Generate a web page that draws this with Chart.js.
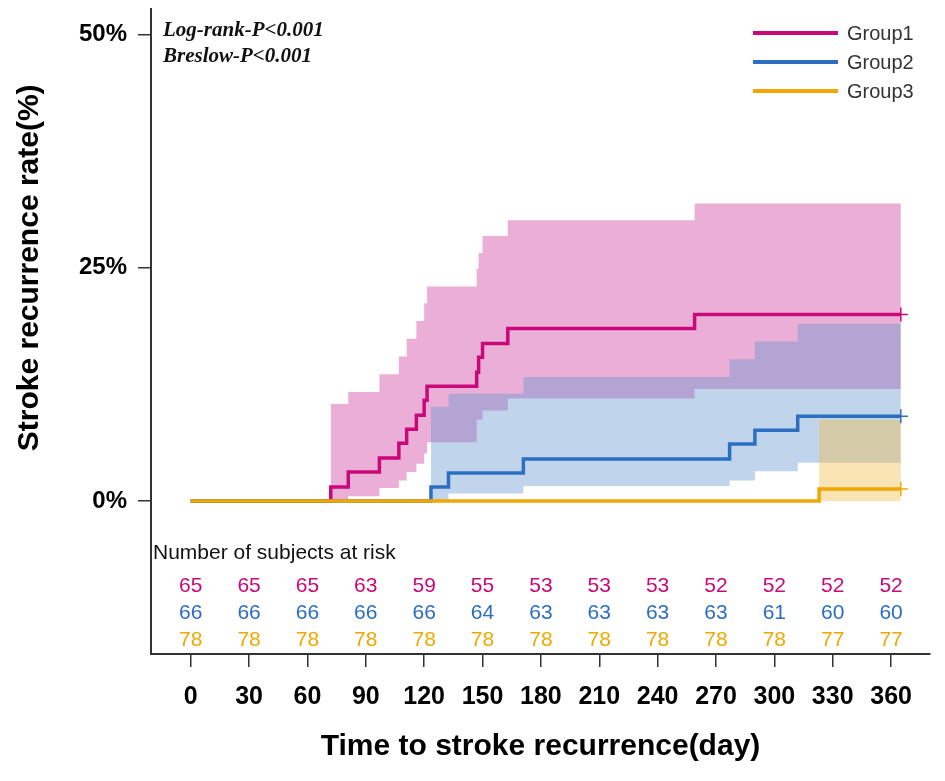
<!DOCTYPE html>
<html><head><meta charset="utf-8">
<script src="https://cdn.jsdelivr.net/npm/chart.js@4.4.1/dist/chart.umd.min.js"></script>
<style>html,body{margin:0;padding:0;background:#fff;} #wrap{width:945px;height:781px;}</style>
</head><body><div id="wrap"><canvas id="c" width="945" height="781"></canvas></div>
<script>
// ---- data ----
const xTicks = [0, 30, 60, 90, 120, 150, 180, 210, 240, 270, 300, 330, 360];
const yTicks = [0, 25, 50];
const groupNames = ['Group1', 'Group2', 'Group3'];
const pTexts = ['Log-rank-P<0.001', 'Breslow-P<0.001'];

const g1Days  = [0, 72, 81, 97, 107, 111, 116, 120, 121.5, 147, 148, 150, 163, 259, 365];
const g1Rate  = [0, 1.5, 3.1, 4.6, 6.2, 7.7, 9.2, 10.8, 12.3, 13.8, 15.4, 16.9, 18.5, 20.0, 20.0];
const g1CiDays = [72, 81, 97, 107, 111, 116, 120, 121.5, 147, 148, 150, 163, 259, 365];
const g1Upper = [10.4, 11.7, 13.6, 15.5, 17.4, 19.3, 21.2, 23.0, 24.9, 26.6, 28.4, 30.1, 31.9, 31.9];
const g1Lower = [0, 0.5, 1.4, 2.2, 3.1, 4.0, 5.1, 6.3, 8.7, 8.7, 9.7, 11.0, 12.0, 12.0];

const g2Days  = [0, 123.5, 132.5, 171, 277, 290, 312, 365];
const g2Rate  = [0, 1.5, 3.0, 4.5, 6.1, 7.6, 9.1, 9.1];
const g2CiDays = [123.5, 132.5, 171, 277, 290, 312, 365];
const g2Upper = [10.1, 11.5, 13.3, 15.2, 17.1, 19.0, 19.0];
const g2Lower = [0, 0.8, 1.6, 2.2, 3.2, 4.1, 4.1];

const g3Days  = [0, 323, 365];
const g3Rate  = [0, 1.3, 1.3];
const g3CiDays = [323, 365];
const g3Upper = [8.7, 8.7];
const g3Lower = [0, 0];

const risk1 = [65, 65, 65, 63, 59, 55, 53, 53, 53, 52, 52, 52, 52];
const risk2 = [66, 66, 66, 66, 66, 64, 63, 63, 63, 63, 61, 60, 60];
const risk3 = [78, 78, 78, 78, 78, 78, 78, 78, 78, 78, 78, 77, 77];

// ---- styles ----
const lineColors = ['#C9087A', '#2C6EC2', '#F0A800'];
const bandColors = ['rgba(205,55,155,0.40)', 'rgba(98,148,208,0.40)', 'rgba(242,187,67,0.40)'];
const axisColor = '#333333';
const FONT = '"Liberation Sans", Arial, sans-serif';
const SERIF = '"Liberation Serif", "Times New Roman", serif';

function pts(xs, ys) { return xs.map((x, i) => ({ x: x, y: ys[i] })); }

function lineDS(i, xs, ys, order) {
  const last = xs.length - 1;
  return {
    label: groupNames[i], data: pts(xs, ys), stepped: 'before',
    borderColor: lineColors[i], backgroundColor: lineColors[i], borderWidth: 3.5,
    pointStyle: 'cross', pointBorderWidth: 1.5,
    pointRadius: c => (c.dataIndex === last ? 7 : 0),
    pointBorderColor: lineColors[i], fill: false, order: order
  };
}
function bandDS(i, xs, ys, fill, order) {
  return {
    label: groupNames[i] + '_ci', data: pts(xs, ys), stepped: 'before',
    borderWidth: 0, borderColor: 'rgba(0,0,0,0)', pointRadius: 0,
    backgroundColor: bandColors[i], fill: fill, order: order
  };
}

const datasets = [
  bandDS(0, g1CiDays, g1Lower, false, 21),
  bandDS(0, g1CiDays, g1Upper, '-1', 20),
  bandDS(1, g2CiDays, g2Lower, false, 19),
  bandDS(1, g2CiDays, g2Upper, '-1', 18),
  bandDS(2, g3CiDays, g3Lower, false, 17),
  bandDS(2, g3CiDays, g3Upper, '-1', 16),
  lineDS(0, g1Days, g1Rate, 2),
  lineDS(1, g2Days, g2Rate, 1),
  lineDS(2, g3Days, g3Rate, 0)
];

const decor = {
  id: 'decor',
  afterDraw(chart) {
    const ctx = chart.ctx, xs = chart.scales.x, ys = chart.scales.y;
    ctx.save();
    // p values
    ctx.fillStyle = '#111';
    ctx.font = 'italic bold 21px ' + SERIF;
    ctx.textAlign = 'left'; ctx.textBaseline = 'alphabetic';
    ctx.fillText(pTexts[0], 163, 36);
    ctx.fillText(pTexts[1], 163, 62);
    // legend
    const ly = [33, 62, 91];
    for (let i = 0; i < 3; i++) {
      ctx.strokeStyle = lineColors[i]; ctx.lineWidth = 4;
      ctx.beginPath(); ctx.moveTo(753, ly[i]); ctx.lineTo(838, ly[i]); ctx.stroke();
      ctx.fillStyle = '#333'; ctx.font = '20px ' + FONT;
      ctx.textAlign = 'left'; ctx.textBaseline = 'middle';
      ctx.fillText(groupNames[i], 847, ly[i] + 1);
    }
    // risk table
    ctx.fillStyle = '#111'; ctx.font = '21px ' + FONT;
    ctx.textAlign = 'left'; ctx.textBaseline = 'middle';
    ctx.fillText('Number of subjects at risk', 153, 553);
    const rows = [risk1, risk2, risk3], ry = [586, 613, 640];
    ctx.font = '21px ' + FONT; ctx.textAlign = 'center';
    rows.forEach((r, k) => {
      ctx.fillStyle = lineColors[k];
      r.forEach((v, j) => ctx.fillText(String(v), xs.getPixelForValue(xTicks[j]), ry[k]));
    });
    // axis titles
    ctx.fillStyle = '#000'; ctx.font = 'bold 30px ' + FONT;
    ctx.textAlign = 'center'; ctx.textBaseline = 'middle';
    ctx.fillText('Time to stroke recurrence(day)', (chart.chartArea.left + chart.chartArea.right) / 2, 747);
    ctx.translate(30, (ys.getPixelForValue(0) + ys.getPixelForValue(50)) / 2);
    ctx.rotate(-Math.PI / 2);
    ctx.fillText('Stroke recurrence rate(%)', 0, 0);
    ctx.restore();
  }
};

new Chart(document.getElementById('c'), {
  type: 'line',
  data: { datasets: datasets },
  plugins: [decor],
  options: {
    responsive: false, animation: false, devicePixelRatio: 1,
    layout: { padding: { top: 8, right: 15, left: 0, bottom: 0 } },
    plugins: { legend: { display: false }, tooltip: { enabled: false } },
    scales: {
      x: {
        type: 'linear', min: -20.4, max: 380,
        afterBuildTicks: s => { s.ticks = xTicks.map(v => ({ value: v })); },
        afterFit: s => { s.height = 127; s.paddingLeft = 0; s.paddingRight = 0; },
        grid: { drawOnChartArea: false, drawTicks: true, tickLength: 13, color: axisColor, lineWidth: 1.5 },
        border: { display: true, color: axisColor, width: 2 },
        ticks: { color: '#000', font: { family: FONT, size: 25, weight: 'bold' }, padding: 15, maxRotation: 0, autoSkip: false }
      },
      y: {
        type: 'linear', min: -16.4, max: 52.8,
        afterBuildTicks: s => { s.ticks = yTicks.map(v => ({ value: v })); },
        afterFit: s => { s.width = 151; s.paddingTop = 0; s.paddingBottom = 0; },
        grid: { drawOnChartArea: false, drawTicks: true, tickLength: 13, color: axisColor, lineWidth: 1.5 },
        border: { display: true, color: axisColor, width: 2 },
        ticks: { color: '#000', font: { family: FONT, size: 24, weight: 'bold' }, padding: 11, callback: v => v + '%' }
      }
    }
  }
});
</script>
</body></html>
